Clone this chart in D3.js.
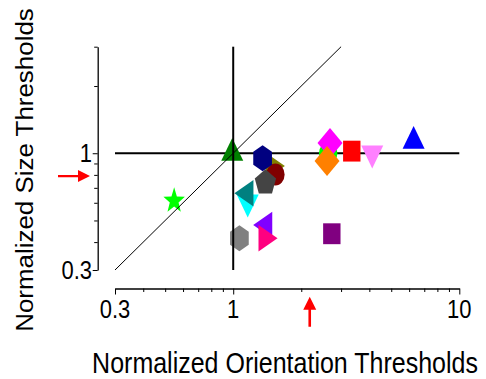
<!DOCTYPE html>
<html>
<head>
<meta charset="utf-8">
<script src="https://d3js.org/d3.v7.min.js"></script>
<style>
  body { margin: 0; background: #fff; }
  text { font-family: "Liberation Sans", Arial, sans-serif; fill: #000; }
</style>
</head>
<body>
<svg class="chart"></svg>
<script>
// chart size
var width = 486,
  height = 379;

// vertical stretch of the original picture
var sy = 1.2;

// data
var shapes = ["circle", "diamond", "diamond", "square", "triangle-down", "triangle-up", "square",
  "triangle-up", "star", "triangle-right", "circle", "hexagon", "pentagon",
  "triangle-down", "triangle-left", "hexagon", "triangle-left", "triangle-right"];
var colors = ["#00ff00", "#ff00ff", "#ff8000", "#ff0000", "#ff80ff", "#0000ff", "#800080",
  "#008000", "#00ff00", "#808000", "#800000", "#000080", "#444444",
  "#00ffff", "#008080", "#808080", "#8000ff", "#ff0080"];
var orientation = [2.63, 2.68, 2.60, 3.345, 4.12, 6.28, 2.73,
  0.99, 0.548, 1.487, 1.537, 1.349, 1.388,
  1.159, 1.152, 1.065, 1.395, 1.38];
var size = [1.0, 1.11, 0.922, 1.022, 1.0, 1.133, 0.436,
  1.0, 0.612, 0.877, 0.803, 0.95, 0.738,
  0.604, 0.662, 0.416, 0.477, 0.416];

// ticks
var xTicks = [0.3, 0.4, 0.5, 0.6, 0.7, 0.8, 0.9, 1, 2, 3, 4, 5, 6, 7, 8, 9, 10];
var xLabels = [0.3, 1, 10];
var yTicks = [0.3, 0.4, 0.5, 0.6, 0.7, 0.8, 0.9, 1, 2, 3];
var yLabels = [0.3, 1];

// arrows marking the means
var arrowX = [2.18];
var arrowY = [0.79];

// scales
var x = d3.scaleLog().domain([0.3, 10]).range([115, 459.3]);
var y = d3.scaleLog().domain([0.3, 3]).range([270, 46.7]);

var chart = d3.select(".chart")
  .attr("width", width)
  .attr("height", height);

// marker paths (unstretched radius r)
function poly(n, r, rot) {
  var pts = [];
  for (var i = 0; i < n; i++) {
    var a = rot + i * 2 * Math.PI / n;
    pts.push([r * Math.sin(a), -r * Math.cos(a)]);
  }
  return "M" + pts.join("L") + "Z";
}
function shapePath(s) {
  if (s == "triangle-up") return poly(3, 12.7, 0);
  if (s == "triangle-down") return poly(3, 12.7, Math.PI);
  if (s == "triangle-left") return poly(3, 12.7, -Math.PI / 2);
  if (s == "triangle-right") return poly(3, 12.7, Math.PI / 2);
  if (s == "hexagon") return poly(6, 10.8, 0);
  if (s == "pentagon") return poly(5, 11.2, 0);
  if (s == "diamond") return poly(4, 12.5, 0);
  if (s == "square") return poly(4, 12.3, Math.PI / 4);
  if (s == "star") {
    var pts = [];
    for (var i = 0; i < 10; i++) {
      var r = i % 2 ? 4.6 : 11.3, a = i * Math.PI / 5;
      pts.push([r * Math.sin(a), -r * Math.cos(a)]);
    }
    return "M" + pts.join("L") + "Z";
  }
  return d3.symbol(d3.symbolCircle, Math.PI * 9.2 * 9.2)();
}

// append horizontal line at size = 1
chart.append("line")
  .attr("x1", x(0.3)).attr("x2", x(10))
  .attr("y1", y(1)).attr("y2", y(1))
  .attr("stroke", "#000").attr("stroke-width", 2);

// append markers
chart.selectAll(".mark")
  .data(orientation)
  .enter().append("path")
  .attr("class", "mark")
  .attr("d", function(d, i) { return shapePath(shapes[i]); })
  .attr("fill", function(d, i) { return colors[i]; })
  .attr("transform", function(d, i) {
    return "translate(" + x(d) + "," + y(size[i]) + ") scale(1," + sy + ")";
  });

// append vertical line at orientation = 1
chart.append("line")
  .attr("x1", x(1)).attr("x2", x(1))
  .attr("y1", y(0.3)).attr("y2", y(3))
  .attr("stroke", "#000").attr("stroke-width", 2);

// append unity line
chart.append("line")
  .attr("x1", x(0.3)).attr("x2", x(3))
  .attr("y1", y(0.3)).attr("y2", y(3))
  .attr("stroke", "#000").attr("stroke-width", 1);

// append x-axis
var xAxis = d3.axisBottom(x)
  .tickValues(xTicks)
  .tickSizeOuter(0)
  .tickFormat("");
var gx = chart.append("g")
  .attr("transform", "translate(0,288.5)")
  .call(xAxis);
gx.selectAll(".tick line")
  .attr("y2", function(d) { return xLabels.indexOf(d) >= 0 ? 6 : 3.5; });

// append y-axis
var yAxis = d3.axisLeft(y)
  .tickValues(yTicks)
  .tickSizeOuter(0)
  .tickFormat("");
var gy = chart.append("g")
  .attr("transform", "translate(97.7,0)")
  .call(yAxis);
gy.selectAll(".tick line")
  .attr("x2", function(d) { return yLabels.indexOf(d) >= 0 ? -5 : -3.5; });
chart.selectAll(".domain").attr("stroke-width", 1.3);

// append tick labels
chart.selectAll(".xlabel")
  .data(xLabels)
  .enter().append("text")
  .attr("class", "xlabel")
  .attr("transform", function(d) { return "translate(" + x(d) + ",318) scale(1," + sy + ")"; })
  .style("text-anchor", "middle")
  .style("font-size", "22px")
  .text(function(d) { return d; });

chart.selectAll(".ylabel")
  .data(yLabels)
  .enter().append("text")
  .attr("class", "ylabel")
  .attr("transform", function(d) { return "translate(92," + (y(d) + 8.5) + ") scale(1," + sy + ")"; })
  .style("text-anchor", "end")
  .style("font-size", "22px")
  .text(function(d) { return d; });

// append axis titles
chart.append("text")
  .attr("transform", "translate(285,373) scale(1,1.15)")
  .style("text-anchor", "middle")
  .style("font-size", "25px")
  .text("Normalized Orientation Thresholds");

chart.append("text")
  .attr("transform", "translate(33,170) scale(1,1.08) rotate(-90)")
  .style("text-anchor", "middle")
  .style("font-size", "24px")
  .text("Normalized Size Thresholds");

// append red arrows
chart.selectAll(".arrowY")
  .data(arrowY)
  .enter().append("path")
  .attr("class", "arrowY")
  .attr("fill", "#ff0000")
  .attr("transform", function(d) { return "translate(90," + y(d) + ")"; })
  .attr("d", "M-32,-1.2L-12,-1.2L-12,-6L0,0L-12,6L-12,1.2L-32,1.2Z");

chart.selectAll(".arrowX")
  .data(arrowX)
  .enter().append("path")
  .attr("class", "arrowX")
  .attr("fill", "#ff0000")
  .attr("transform", function(d) { return "translate(" + x(d) + ",296.7)"; })
  .attr("d", "M-1.3,30L-1.3,13L-6.5,13L0,0L6.5,13L1.3,13L1.3,30Z");
</script>
</body>
</html>
